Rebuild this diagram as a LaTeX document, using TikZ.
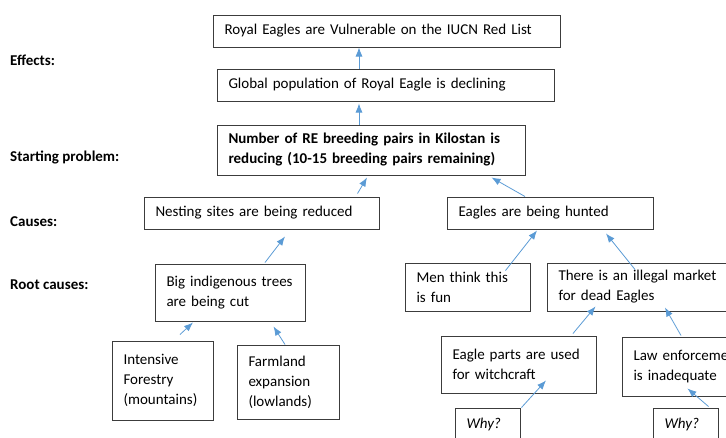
\documentclass[tikz,border=0pt]{standalone}
\usepackage{fontspec}
\setmainfont{Carlito}
\usepackage{tikz}
\usetikzlibrary{arrows.meta, positioning}
\definecolor{treeBlue}{RGB}{91, 155, 213}
\definecolor{treeLine}{RGB}{60, 60, 60}

\begin{document}
\begin{tikzpicture}[
    x=1pt, y=-1pt,
    every node/.style={font=\fontsize{15}{20}\selectfont},
    problem/.style={
        rectangle,
        draw=treeLine,
        line width=1pt,
        inner xsep=11.5pt,
        inner ysep=0pt,
        align=left
    },
    keyproblem/.style={
        problem,
        font=\fontsize{15}{20}\selectfont\bfseries
    },
    whybox/.style={
        problem,
        font=\fontsize{15}{20}\selectfont\itshape
    },
    level/.style={
        anchor=west,
        inner sep=0pt,
        font=\fontsize{15}{20}\selectfont\bfseries
    },
    link/.style={-{Latex[length=9pt,width=7pt]}, treeBlue, line width=0.8pt}
]
    \useasboundingbox (0,0) rectangle (726,437);
    \clip (0,0) rectangle (726,437);

    % Levels
    \node[level] (effects) at (10,60) {Effects:};
    \node[level] (starting) at (10,157) {Starting problem:};
    \node[level] (causes) at (10,222) {Causes:};
    \node[level] (roots) at (10,285) {Root causes:};

    % Effects
    \node[problem, text width=324pt, minimum height=32pt] (vulnerable) at (386.5,31) {Royal Eagles are Vulnerable on the IUCN Red List};
    \node[problem, text width=314pt, minimum height=32pt] (declining) at (385.5,85) {Global population of Royal Eagle is declining};

    % Starting problem
    \node[keyproblem, text width=285pt, minimum height=50pt] (pairs) at (371,150) {Number of RE breeding pairs in Kilostan is\\reducing (10-15 breeding pairs remaining)};

    % Causes
    \node[problem, text width=212pt, minimum height=32pt] (nesting) at (261.5,213) {Nesting sites are being reduced};
    \node[problem, text width=183pt, minimum height=32pt] (hunted) at (550,213) {Eagles are being hunted};

    % Root causes
    \node[problem, text width=127pt, minimum height=57pt] (trees) at (230,292.5) {Big indigenous trees\\are being cut};
    \node[problem, text width=78pt, minimum height=79pt] (forestry) at (162.5,380.5) {Intensive\\Forestry\\(mountains)};
    \node[problem, text width=79pt, minimum height=74pt] (farmland) at (288,382) {Farmland\\expansion\\(lowlands)};
    \node[problem, text width=102pt, minimum height=48pt] (fun) at (467.5,287) {Men think this\\is fun};
    \node[problem, text width=170pt, minimum height=48pt] (market) at (643.5,287) {There is an illegal market\\for dead Eagles};
    \node[problem, text width=132pt, minimum height=57pt] (witchcraft) at (518.5,364.5) {Eagle parts are used\\for witchcraft};
    \node[problem, text width=115pt, minimum height=59pt] (enforcement) at (691,366.5) {Law enforceme\\is inadequate};
    \node[whybox, text width=42pt, minimum height=32pt] (whyA) at (487.5,424) {Why?};
    \node[whybox, text width=42pt, minimum height=32pt] (whyB) at (685.5,424) {Why?};

    % Links
    \draw[link] ([xshift=-26.5pt]declining.north) -- ([xshift=-27.5pt]vulnerable.south);
    \draw[link] ([xshift=-12pt]pairs.north) -- ([xshift=-26.5pt, yshift=-2pt]declining.south);
    \draw[link] ([xshift=-22pt, yshift=3pt]nesting.north east) -- ([xshift=-4pt, yshift=-2pt]pairs.south);
    \draw[link] ([xshift=-25pt]hunted.north) -- ([xshift=-34pt, yshift=-2pt]pairs.south east);
    \draw[link] ([xshift=35pt, yshift=1pt]trees.north) -- ([xshift=23.5pt, yshift=-7pt]nesting.south);
    \draw[link] ([xshift=17.5pt, yshift=6pt]forestry.north) -- ([xshift=-37pt, yshift=-1pt]trees.south);
    \draw[link] ([xshift=-3pt]farmland.north) -- ([xshift=-32pt, yshift=-5pt]trees.south east);
    \draw[link] ([xshift=-25pt, yshift=-8pt]fun.north east) -- ([xshift=-13pt, yshift=-1pt]hunted.south);
    \draw[link] ([xshift=-8.5pt, yshift=-7pt]market.north) -- ([xshift=56pt, yshift=-4pt]hunted.south);
    \draw[link] ([xshift=54.5pt, yshift=2pt]witchcraft.north) -- ([xshift=49pt, yshift=5pt]market.south west);
    \draw[link] ([xshift=-10pt, yshift=1pt]enforcement.north) -- ([xshift=21.5pt, yshift=4pt]market.south);
    \draw[link] ([xshift=1pt]whyA.north east) -- ([xshift=27.5pt, yshift=13pt]witchcraft.south);
    \draw[link] ([xshift=-10pt, yshift=1pt]whyB.north east) -- ([xshift=66pt, yshift=8pt]enforcement.south west);

\end{tikzpicture}
\end{document}
